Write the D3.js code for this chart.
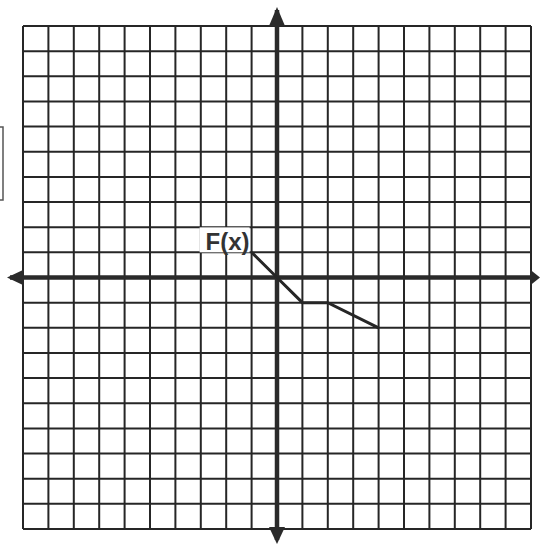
<!DOCTYPE html>
<html>
<head>
<meta charset="utf-8">
<script src="https://cdn.jsdelivr.net/npm/d3@7"></script>
<style>
  body { margin: 0; background: #fff; }
  svg { display: block; }
</style>
</head>
<body>
<div id="chart"></div>
<script>
// grid goes from -10 to 10 on both axes
const gridMin = -10;
const gridMax = 10;
const gridValues = [-10, -9, -8, -7, -6, -5, -4, -3, -2, -1, 0, 1, 2, 3, 4, 5, 6, 7, 8, 9, 10];

// F(x) piecewise points
const fxX = [-1, 0, 1, 2, 4];
const fxY = [1, 0, -1, -1, -2];
const fxLabel = "F(x)";

const width = 540, height = 546;

const svg = d3.select("#chart").append("svg")
  .attr("width", width)
  .attr("height", height);

const x = d3.scaleLinear().domain([gridMin, gridMax]).range([23, 531]);
const y = d3.scaleLinear().domain([gridMax, gridMin]).range([26, 529]);

const ink = "#262626";

// little bracket on the left edge (scan artifact)
svg.append("rect")
  .attr("x", -2).attr("y", 127)
  .attr("width", 5).attr("height", 73)
  .attr("fill", "none")
  .attr("stroke", "#555")
  .attr("stroke-width", 1.5);

// grid lines
svg.append("g").selectAll("line")
  .data(gridValues)
  .enter().append("line")
  .attr("x1", d => x(d)).attr("x2", d => x(d))
  .attr("y1", y(gridMax)).attr("y2", y(gridMin))
  .attr("stroke", ink)
  .attr("stroke-width", 2);

svg.append("g").selectAll("line")
  .data(gridValues)
  .enter().append("line")
  .attr("y1", d => y(d)).attr("y2", d => y(d))
  .attr("x1", x(gridMin)).attr("x2", x(gridMax))
  .attr("stroke", ink)
  .attr("stroke-width", 2);

// axes with arrows
const axisColor = "#2a2a2a";
svg.append("line")
  .attr("x1", 10).attr("x2", 532)
  .attr("y1", y(0)).attr("y2", y(0))
  .attr("stroke", axisColor).attr("stroke-width", 4.5);
svg.append("line")
  .attr("y1", 10).attr("y2", 540)
  .attr("x1", x(0)).attr("x2", x(0))
  .attr("stroke", axisColor).attr("stroke-width", 4.5);

const ax = x(0), ay = y(0);
const arrows = [
  [[ax, 7], [ax - 8, 26], [ax + 8, 26]],
  [[ax, 544], [ax - 8, 527], [ax + 8, 527]],
  [[7, ay], [24, ay - 8], [24, ay + 8]],
  [[540, ay], [530, ay - 8], [530, ay + 8]]
];
svg.append("g").selectAll("path")
  .data(arrows)
  .enter().append("path")
  .attr("d", d => "M" + d.join("L") + "Z")
  .attr("fill", axisColor);

// function line
const pts = fxX.map((v, i) => [v, fxY[i]]);
svg.append("path")
  .datum(pts)
  .attr("d", d3.line().x(d => x(d[0])).y(d => y(d[1])))
  .attr("fill", "none")
  .attr("stroke", ink)
  .attr("stroke-width", 3);

// label with white box behind
const lx = x(-1) - 2, ly = y(1) - 2;
svg.append("rect")
  .attr("x", lx - 50).attr("y", ly - 23)
  .attr("width", 50).attr("height", 25)
  .attr("fill", "#fff");
svg.append("text")
  .attr("x", lx).attr("y", ly)
  .attr("text-anchor", "end")
  .attr("font-family", "Liberation Sans, Arial, sans-serif")
  .attr("font-weight", "bold")
  .attr("font-size", 24)
  .attr("fill", "#333")
  .text(fxLabel);
</script>
</body>
</html>
